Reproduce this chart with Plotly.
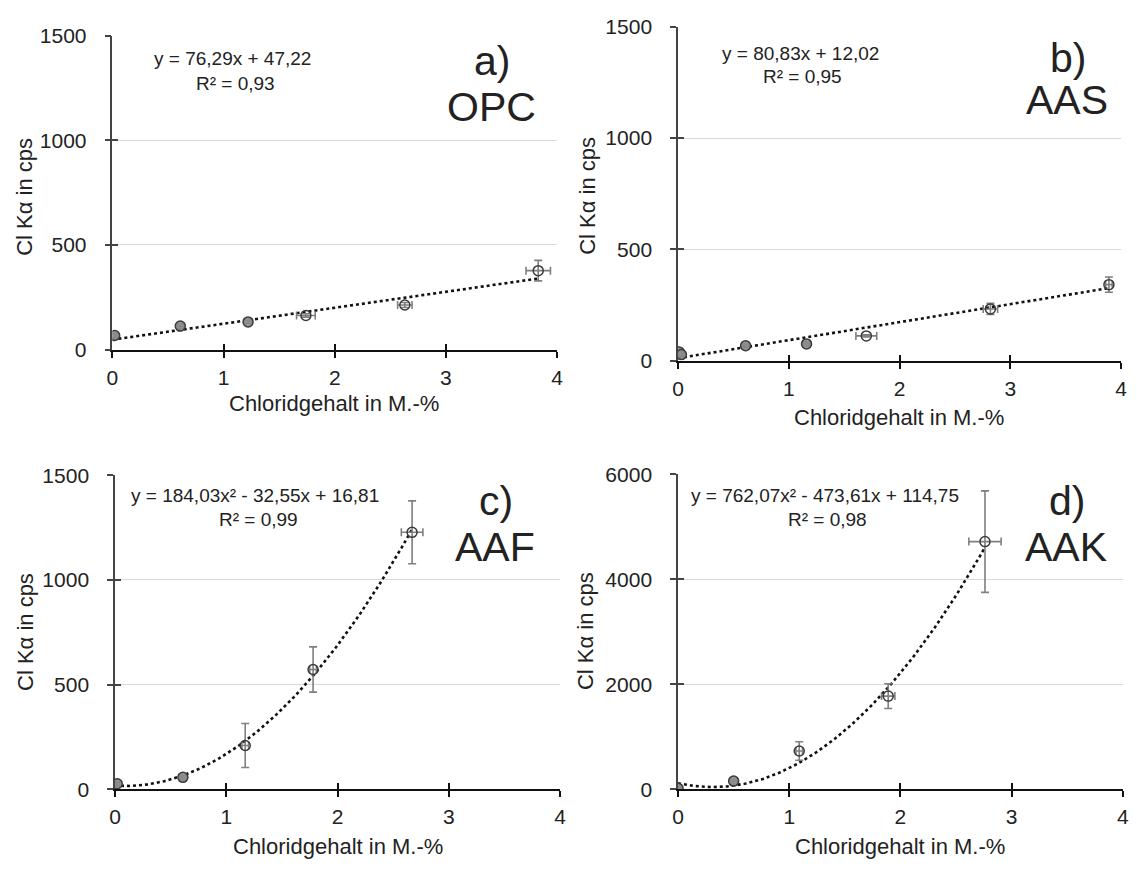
import numpy as np
import plotly.graph_objects as go

W, H = 1137, 872

# ---------------- data ----------------
a_x = [0.02, 0.61, 1.22, 1.74, 2.63, 3.83]
a_y = [67, 112, 132, 163, 213, 377]
a_xerr = [0.02, 0.03, 0.03, 0.084, 0.065, 0.11]
a_yerr = [8, 10, 8, 8, 12, 49]
a_fit = [0.0, 76.29, 47.22]

b_x = [0.01, 0.03, 0.61, 1.16, 1.70, 2.82, 3.89]
b_y = [40, 28, 68, 76, 112, 233, 342]
b_xerr = [0.02, 0.02, 0.03, 0.03, 0.094, 0.065, 0.03]
b_yerr = [8, 8, 8, 10, 5, 25, 34]
b_fit = [0.0, 80.83, 12.02]

c_x = [0.02, 0.61, 1.17, 1.78, 2.67]
c_y = [26, 57, 209, 572, 1227]
c_xerr = [0.02, 0.03, 0.03, 0.03, 0.097]
c_yerr = [8, 10, 105, 108, 150]
c_fit = [184.03, -32.55, 16.81]

d_x = [0.0, 0.50, 1.09, 1.89, 2.76]
d_y = [19, 155, 730, 1775, 4720]
d_xerr = [0.03, 0.03, 0.03, 0.06, 0.145]
d_yerr = [40, 40, 176, 235, 968]
d_fit = [762.07, -473.61, 114.75]

equations = ["y = 76,29x + 47,22", "y = 80,83x + 12,02",
             "y = 184,03x² - 32,55x + 16,81", "y = 762,07x² - 473,61x + 114,75"]
r2_labels = ["R² = 0,93", "R² = 0,95", "R² = 0,99", "R² = 0,98"]
panel_letters = ["a)", "b)", "c)", "d)"]
panel_names = ["OPC", "AAS", "AAF", "AAK"]

x_title = "Chloridgehalt in M.-%"
y_title = "Cl Kα in cps"
x_range = [0, 4]
x_dtick = 1
y_ranges = [[0, 1500], [0, 1500], [0, 1500], [0, 6000]]
y_dticks = [500, 500, 500, 2000]

# ---------------- style / layout (pixels) ----------------
filled = [[1, 1, 1, 0, 0, 0], [1, 1, 1, 1, 0, 0, 0], [1, 1, 0, 0, 0], [1, 1, 0, 0, 0]]
dom_px = [  # x0, x1, ytop, ybottom
    (107.6, 557.0, 24.3, 346.7),
    (679.2, 1127.0, 15.0, 358.3),
    (110.2, 560.0, 475.7, 798.3),
    (679.2, 1128.8, 475.0, 798.3),
]
eq_px = [(229, 48), (803, 43), (252, 497), (828, 497)]
r2_px = [(232, 73), (805, 66), (255, 521), (830, 521)]
let_px = [(491, 50), (1073, 47), (495, 502), (1072, 502)]
name_px = [(491, 98), (1072, 90), (494, 550), (1071, 550)]
ytit_px = [(19, 190), (587, 189), (19, 637), (585, 636)]
xtit_px = [(332, 402), (903, 416), (336, 857), (904, 857)]

FONT = "Liberation Sans, Arial, sans-serif"
TXT = "#222222"

panels = [
    (a_x, a_y, a_xerr, a_yerr, a_fit),
    (b_x, b_y, b_xerr, b_yerr, b_fit),
    (c_x, c_y, c_xerr, c_yerr, c_fit),
    (d_x, d_y, d_xerr, d_yerr, d_fit),
]

fig = go.Figure()
layout = dict(
    width=W, height=H, margin=dict(l=0, r=0, t=0, b=0),
    paper_bgcolor="white", plot_bgcolor="white", showlegend=False,
    font=dict(family=FONT, color=TXT),
)
annotations = []

def px2paper(px, py):
    return px / W, 1 - py / H

for i, (xs, ys, xe, ye, fit) in enumerate(panels):
    n = i + 1
    xa = "x" if n == 1 else f"x{n}"
    ya = "y" if n == 1 else f"y{n}"
    xo, yo = f"x{n + 4}", f"y{n + 4}"
    x0, x1, yt, yb = dom_px[i]

    # trend line from the displayed fit coefficients
    xf = np.linspace(0, xs[-1], 200)
    yf = fit[0] * xf ** 2 + fit[1] * xf + fit[2]
    fig.add_trace(go.Scatter(x=xf, y=yf, mode="lines", xaxis=xa, yaxis=ya,
                             line=dict(color="#111111", width=2.6, dash="dot"),
                             hoverinfo="skip"))
    fills = ["rgba(140,140,140,0.9)" if f else "rgba(255,255,255,0)" for f in filled[i]]
    fig.add_trace(go.Scatter(
        x=xs, y=ys, mode="markers", xaxis=xa, yaxis=ya,
        marker=dict(symbol="circle", size=10, color=fills,
                    line=dict(color="#3a3a3a", width=1.5)),
        error_x=dict(type="data", array=xe, visible=True, color="#7f7f7f",
                     thickness=1.6, width=4),
        error_y=dict(type="data", array=ye, visible=True, color="#7f7f7f",
                     thickness=1.6, width=4),
    ))
    # empty trace for the overlay axes (inner halves of the cross ticks)
    fig.add_trace(go.Scatter(x=[None], y=[None], xaxis=xo, yaxis=yo, mode="markers",
                             showlegend=False, hoverinfo="skip"))

    xdom = [x0 / W, x1 / W]
    ydom = [1 - yb / H, 1 - yt / H]
    layout["xaxis" if n == 1 else f"xaxis{n}"] = dict(
        domain=xdom, anchor=ya, range=x_range, dtick=x_dtick, showline=True,
        linecolor="#111111", linewidth=2, ticks="outside", ticklen=6, tickwidth=2,
        tickcolor="#111111", showgrid=False, zeroline=False,
        tickfont=dict(size=21, color=TXT, family=FONT), ticklabelstandoff=2,
    )
    layout["yaxis" if n == 1 else f"yaxis{n}"] = dict(
        domain=ydom, anchor=xa, range=y_ranges[i], dtick=y_dticks[i], showline=True,
        linecolor="#444444", linewidth=1.5, ticks="outside", ticklen=6, tickwidth=1.5,
        tickcolor="#444444", showgrid=True, gridcolor="#d9d9d9", gridwidth=1,
        zeroline=False, tickfont=dict(size=21, color=TXT, family=FONT),
        ticklabelstandoff=14,
    )
    layout[f"xaxis{n + 4}"] = dict(
        overlaying=xa, anchor=yo, range=x_range, dtick=x_dtick, ticks="inside",
        ticklen=6, tickwidth=2, tickcolor="#111111", showticklabels=False,
        showgrid=False, zeroline=False, showline=False,
    )
    layout[f"yaxis{n + 4}"] = dict(
        overlaying=ya, anchor=xo, range=y_ranges[i], dtick=y_dticks[i], ticks="inside",
        ticklen=6, tickwidth=1.5, tickcolor="#444444", showticklabels=False,
        showgrid=False, zeroline=False, showline=False,
    )

    for (px, py), txt, size in [(eq_px[i], equations[i], 19), (r2_px[i], r2_labels[i], 19),
                                (let_px[i], panel_letters[i], 41), (name_px[i], panel_names[i], 41)]:
        ax, ay = px2paper(px, py)
        annotations.append(dict(x=ax, y=ay, xref="paper", yref="paper", text=txt,
                                showarrow=False, xanchor="center", yanchor="middle",
                                font=dict(size=size, color=TXT, family=FONT)))
    ax, ay = px2paper(*xtit_px[i])
    annotations.append(dict(x=ax, y=ay, xref="paper", yref="paper", text=x_title,
                            showarrow=False, xanchor="center", yanchor="middle",
                            font=dict(size=22, color=TXT, family=FONT)))
    ax, ay = px2paper(*ytit_px[i])
    annotations.append(dict(x=ax, y=ay, xref="paper", yref="paper", text=y_title,
                            showarrow=False, xanchor="center", yanchor="middle",
                            textangle=-90, font=dict(size=22, color=TXT, family=FONT)))

layout["annotations"] = annotations
fig.update_layout(**layout)
fig.write_html("out.html")
